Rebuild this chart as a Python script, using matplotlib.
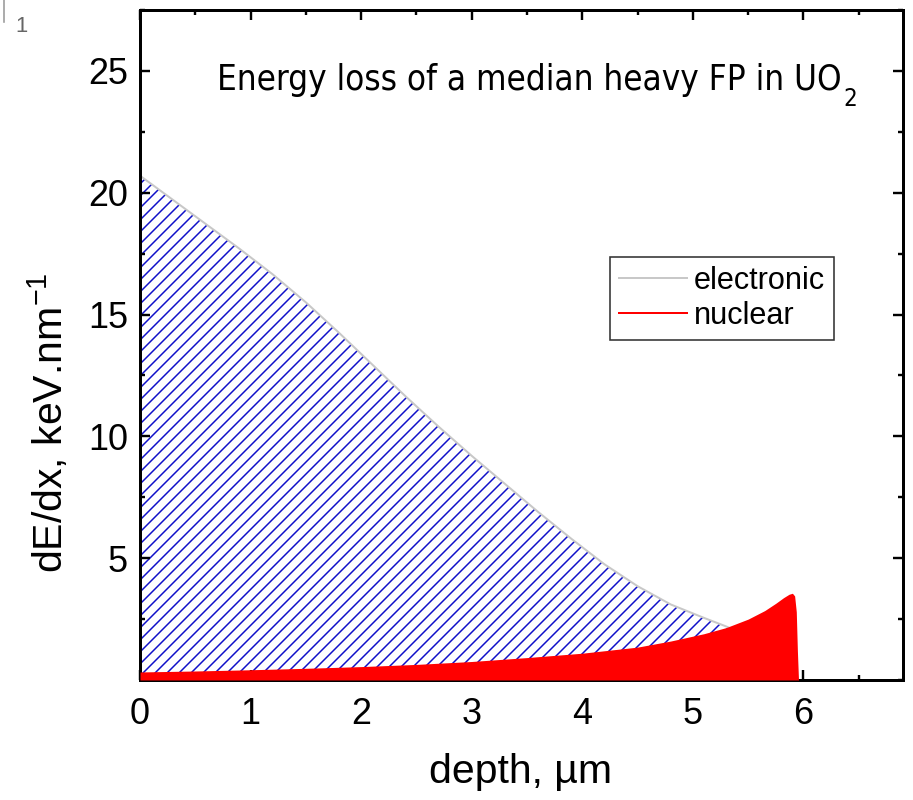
import matplotlib
matplotlib.use("Agg")
import matplotlib.pyplot as plt
from matplotlib.lines import Line2D
from matplotlib.ticker import MultipleLocator, FixedLocator

# electronic stopping, keV/nm vs depth, um
depth_e = [0, 0.3, 0.6, 0.9, 1.2, 1.5, 1.8, 2.1, 2.4, 2.7, 3.0, 3.3, 3.6,
           3.9, 4.2, 4.5, 4.8, 5.1, 5.3, 5.5, 5.7, 5.9, 5.95]
elec = [20.7, 19.7, 18.7, 17.7, 16.65, 15.5, 14.25, 12.95, 11.65, 10.4, 9.2,
        8.05, 6.9, 5.8, 4.75, 3.85, 3.1, 2.55, 2.2, 1.8, 1.3, 0.6, 0]

# nuclear stopping
depth_n = [0, 0.5, 1, 1.5, 2, 2.5, 3, 3.5, 4, 4.5, 4.8, 5.1, 5.3, 5.5, 5.65,
           5.75, 5.82, 5.87, 5.9, 5.92, 5.935, 5.945, 5.955]
nucl = [0.33, 0.37, 0.42, 0.48, 0.55, 0.64, 0.76, 0.92, 1.1, 1.35, 1.6, 1.9,
        2.15, 2.5, 2.85, 3.15, 3.38, 3.52, 3.56, 3.45, 2.8, 1.2, 0]

x_ticks = [0, 1, 2, 3, 4, 5, 6]
y_ticks = [5, 10, 15, 20, 25]
legend_labels = ["electronic", "nuclear"]

DPI = 144
W, H = 913, 800
plt.rcParams["font.family"] = ["Liberation Sans", "DejaVu Sans"]
plt.rcParams["mathtext.default"] = "regular"
plt.rcParams["hatch.linewidth"] = 0.75

fig = plt.figure(figsize=(W / DPI, H / DPI), dpi=DPI)
ax = fig.add_axes([140 / W, 1 - 680 / H, (903 - 140) / W, (680 - 10) / H])

ax.fill_between(depth_e, 0, elec, facecolor="white", edgecolor="#1010c8",
                hatch="////", linewidth=0, zorder=1)
ax.plot(depth_e, elec, color="#c8c8c8", lw=1.0, zorder=2)
ax.fill_between(depth_n, 0, nucl, color="red", linewidth=0, zorder=3)

ax.set_xlim(0, 6.9)
ax.set_ylim(0, 27.5)
ax.xaxis.set_major_locator(FixedLocator(x_ticks))
ax.xaxis.set_minor_locator(MultipleLocator(0.5))
ax.yaxis.set_major_locator(FixedLocator(y_ticks))
ax.yaxis.set_minor_locator(MultipleLocator(2.5))
ax.tick_params(which="both", direction="in", top=True, right=True,
               labelsize=18, width=1.2)
ax.tick_params(which="major", length=5)
ax.tick_params(which="minor", length=2.5)
ax.tick_params(axis="x", pad=8.5)
ax.tick_params(axis="y", pad=6)
for s in ax.spines.values():
    s.set_linewidth(1.5)

# title inside the frame, subscript drawn on its own
title = fig.text(217 / W, 1 - 90 / H, "Energy loss of a median heavy FP in UO",
                 fontsize=17.4, ha="left", va="baseline",
                 family="DejaVu Sans", fontstretch="condensed")
fig.canvas.draw()
bb = title.get_window_extent()
fig.text((bb.x1 + 2) / W, 1 - 106 / H, "2", fontsize=12, ha="left",
         va="baseline", family="DejaVu Sans", fontstretch="condensed")

fig.text(521 / W, 1 - 772 / H, "depth, µm", fontsize=20.5, ha="center", va="center")
fig.text(48 / W, 1 - 423 / H, "dE/dx, keV.nm$^{-1}$", fontsize=20.5,
         rotation=90, ha="center", va="center")

handles = [Line2D([], [], color="#c8c8c8", lw=1.0),
           Line2D([], [], color="red", lw=1.0)]
leg = ax.legend(handles, legend_labels, loc="upper left",
                bbox_to_anchor=(610 / W, 1 - 257 / H),
                bbox_transform=fig.transFigure, borderaxespad=0,
                fontsize=15.3, frameon=True, fancybox=False,
                handlelength=2.2, handletextpad=0.25, borderpad=0.3,
                labelspacing=0.15)
leg.get_frame().set_edgecolor("black")
leg.get_frame().set_linewidth(0.8)

# cropped marker left over in the corner
fig.text(15 / W, 1 - 26 / H, "1", fontsize=11, color="#666666", ha="left", va="center")
fig.add_artist(Line2D([4 / W, 4 / W], [1, 1 - 22 / H], color="#999999", lw=0.8))

fig.savefig("out.png", dpi=DPI)
